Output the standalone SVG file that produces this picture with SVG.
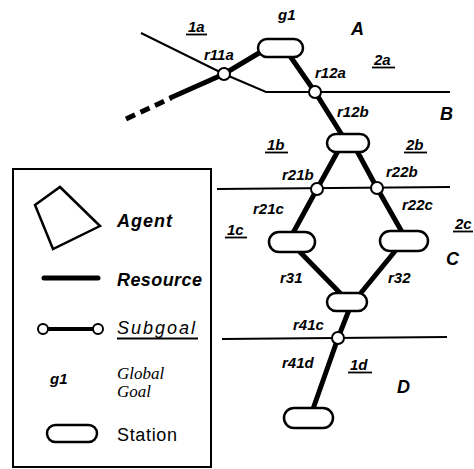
<svg xmlns="http://www.w3.org/2000/svg" width="474" height="469" viewBox="0 0 474 469">
<style>
.thin{fill:none;stroke:#000;stroke-width:2}
.thick{fill:none;stroke:#000;stroke-width:5;stroke-linecap:butt}
.st{fill:#fff;stroke:#000;stroke-width:2.5}
.sg{fill:#fff;stroke:#000;stroke-width:2}
.lb{font-family:"Liberation Sans",Arial,sans-serif;font-weight:bold;font-style:italic;font-size:15px;fill:#000}
.big{font-family:"Liberation Sans",Arial,sans-serif;font-weight:bold;font-style:italic;font-size:18px;fill:#000}
.ul{stroke:#000;stroke-width:1.8}
.lg{font-family:"Liberation Sans",Arial,sans-serif;font-size:18px;fill:#000}
.ser{font-family:"Liberation Serif","Times New Roman",serif;font-style:italic;font-size:17px;fill:#000}
</style>
<rect width="474" height="469" fill="#fff"/>
<g id="connectors">
  <polyline class="thin" points="141,33 224,74 266,92 450,92"/>
  <line class="thin" x1="217" y1="189" x2="450" y2="187"/>
  <line class="thin" x1="222" y1="339" x2="447" y2="337"/>
  <line class="thick" x1="126" y1="119" x2="171" y2="98" stroke-dasharray="10 6"/>
  <polyline class="thick" points="170,98 224,74 259,53"/>
  <polyline class="thick" points="290,56 315,92 342,135"/>
  <polyline class="thick" points="338,151 317,189 293,233"/>
  <polyline class="thick" points="357,151 377,188 402,232"/>
  <line class="thick" x1="299" y1="251" x2="341" y2="294"/>
  <line class="thick" x1="396" y1="250" x2="360" y2="294"/>
  <polyline class="thick" points="349,310 338,338 313,409"/>
</g>
<g id="station-g1"><rect class="st" x="258" y="39" width="45" height="18" rx="9"/></g>
<g id="station-b"><rect class="st" x="327" y="134" width="42" height="18" rx="9"/></g>
<g id="station-c1"><rect class="st" x="269" y="232" width="46" height="20" rx="10"/></g>
<g id="station-c2"><rect class="st" x="380" y="231" width="48" height="20" rx="10"/></g>
<g id="station-m"><rect class="st" x="327" y="293" width="40" height="18" rx="9"/></g>
<g id="station-d"><rect class="st" x="284" y="408" width="49" height="20" rx="10"/></g>
<g id="subgoal-r11a"><circle class="sg" cx="224" cy="74" r="6"/></g>
<g id="subgoal-r12a"><circle class="sg" cx="315" cy="92" r="6"/></g>
<g id="subgoal-r21b"><circle class="sg" cx="317" cy="189" r="6"/></g>
<g id="subgoal-r22b"><circle class="sg" cx="377" cy="188" r="6"/></g>
<g id="subgoal-r41c"><circle class="sg" cx="338" cy="338" r="6"/></g>
<g id="labels">
  <text class="lb" x="278" y="20" font-size="17">g1</text>
  <text class="big" x="351" y="35">A</text>
  <text class="big" x="440" y="120">B</text>
  <text class="big" x="446" y="265">C</text>
  <text class="big" x="397" y="393">D</text>
  <text class="lb" x="204" y="60">r11a</text>
  <text class="lb" x="315" y="78">r12a</text>
  <text class="lb" x="337" y="117">r12b</text>
  <text class="lb" x="282" y="180">r21b</text>
  <text class="lb" x="386" y="177">r22b</text>
  <text class="lb" x="253" y="214">r21c</text>
  <text class="lb" x="402" y="210">r22c</text>
  <text class="lb" x="280" y="283">r31</text>
  <text class="lb" x="388" y="283">r32</text>
  <text class="lb" x="293" y="330">r41c</text>
  <text class="lb" x="282" y="368">r41d</text>
  <text class="lb" x="188" y="32">1a</text>
  <line class="ul" x1="186" y1="34.5" x2="207" y2="34.5"/>
  <text class="lb" x="374" y="65">2a</text>
  <line class="ul" x1="372" y1="67.5" x2="395" y2="67.5"/>
  <text class="lb" x="267" y="150">1b</text>
  <line class="ul" x1="265" y1="152.5" x2="288" y2="152.5"/>
  <text class="lb" x="406" y="150">2b</text>
  <line class="ul" x1="404" y1="152.5" x2="427" y2="152.5"/>
  <text class="lb" x="227" y="235">1c</text>
  <line class="ul" x1="225" y1="237.5" x2="247" y2="237.5"/>
  <text class="lb" x="455" y="229">2c</text>
  <line class="ul" x1="453" y1="231.5" x2="473" y2="231.5"/>
  <text class="lb" x="350" y="370">1d</text>
  <line class="ul" x1="348" y1="372.5" x2="372" y2="372.5"/>
</g>
<g id="legend">
  <rect x="13" y="169" width="198" height="298" fill="none" stroke="#000" stroke-width="2"/>
  <polygon points="35,205 60,187 100,226 53,249" fill="none" stroke="#000" stroke-width="2.5"/>
  <text class="big" x="117" y="227" font-size="17" textLength="55">Agent</text>
  <line x1="44" y1="278" x2="98" y2="278" stroke="#000" stroke-width="5" stroke-linecap="round"/>
  <text class="big" x="117" y="286" font-size="17" textLength="85">Resource</text>
  <line x1="43" y1="329" x2="98" y2="329" stroke="#000" stroke-width="4"/>
  <circle class="sg" cx="43" cy="329" r="5"/>
  <circle class="sg" cx="98" cy="329" r="5"/>
  <text class="lg" x="117" y="334" font-style="italic" font-size="19" textLength="78">Subgoal</text>
  <line class="ul" x1="117" y1="338.5" x2="198" y2="338.5"/>
  <text class="lb" x="50" y="384" font-size="17">g1</text>
  <text class="ser" x="117" y="379" font-size="16">Global</text>
  <text class="ser" x="117" y="397" font-size="16">Goal</text>
  <rect class="st" x="47" y="425" width="50" height="17" rx="8.5"/>
  <text class="lg" x="117" y="441" textLength="60">Station</text>
</g>
</svg>
